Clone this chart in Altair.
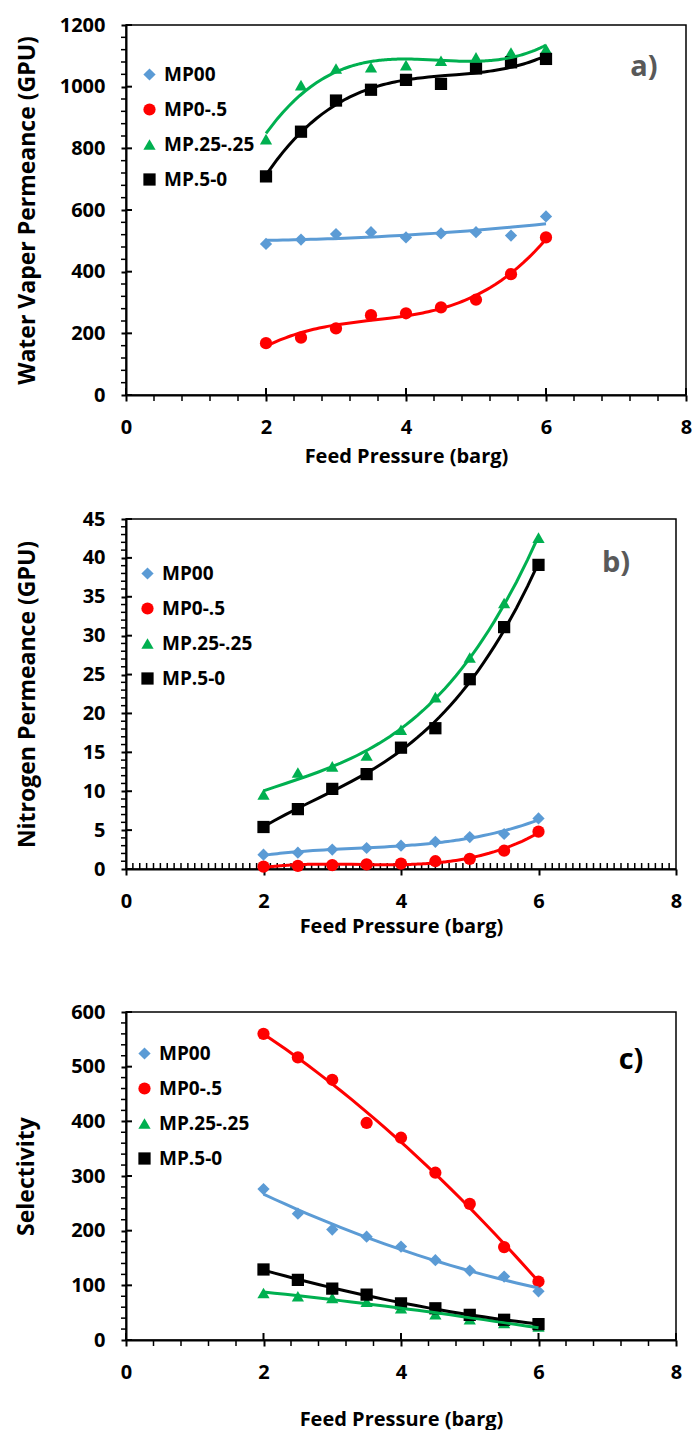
import altair as alt
import pandas as pd

FONT = "Open Sans"

# ---- data ----
pressure = [2, 2.5, 3, 3.5, 4, 4.5, 5, 5.5, 6]
series_names = ["MP00", "MP0-.5", "MP.25-.25", "MP.5-0"]
series_colors = ["#5B9BD5", "#FF0000", "#00B050", "#000000"]
series_shapes = ["diamond", "circle", "triangle-up", "square"]

water_mp00 = [490, 504, 522, 528, 511, 524, 528, 517, 579]
water_mp0_5 = [168, 186, 216, 259, 265, 284, 309, 392, 511]
water_mp25_25 = [830, 1005, 1059, 1063, 1070, 1084, 1095, 1111, 1122]
water_mp5_0 = [709, 854, 955, 990, 1022, 1009, 1059, 1079, 1090]

n2_mp00 = [1.84, 2.1, 2.5, 2.7, 3.0, 3.5, 4.1, 4.5, 6.5]
n2_mp0_5 = [0.3, 0.4, 0.5, 0.6, 0.7, 1.0, 1.3, 2.35, 4.8]
n2_mp25_25 = [9.6, 12.4, 13.2, 14.6, 17.9, 22.1, 27.2, 34.2, 42.6]
n2_mp5_0 = [5.4, 7.7, 10.3, 12.2, 15.6, 18.1, 24.4, 31.1, 39.1]

sel_mp00 = [276, 231, 202, 189, 171, 146, 127, 116, 89]
sel_mp0_5 = [560, 517, 476, 397, 370, 306, 249, 170, 107]
sel_mp25_25 = [86, 80, 77, 70, 58, 47, 38, 31, 25]
sel_mp5_0 = [129, 110, 94, 83, 67, 58, 46, 37, 29]

# polynomial order of each trendline (per panel, per series)
water_fit_order = [2, 3, 3, 3]
n2_fit_order = [3, 3, 3, 3]
sel_fit_order = [2, 2, 2, 2]

x_major = [0, 2, 4, 6, 8]
x_minor_coarse = [0.4, 0.8, 1.2, 1.6, 2.4, 2.8, 3.2, 3.6, 4.4, 4.8, 5.2, 5.6, 6.4, 6.8, 7.2, 7.6]
x_minor_fine = [round(k / 10, 1) for k in range(1, 80) if k % 20 != 0]

water_y_major = [0, 200, 400, 600, 800, 1000, 1200]
water_y_minor = [v for v in range(40, 1200, 40) if v % 200 != 0]
n2_y_major = [0, 5, 10, 15, 20, 25, 30, 35, 40, 45]
n2_y_minor = [v for v in range(1, 45) if v % 5 != 0]
sel_y_major = [0, 100, 200, 300, 400, 500, 600]
sel_y_minor = [v for v in range(20, 600, 20) if v % 100 != 0]


def series_frame(values_by_series):
    rows = []
    for name, vals in zip(series_names, values_by_series):
        for p, v in zip(pressure, vals):
            rows.append({"series": name, "pressure": p, "value": v})
    return pd.DataFrame(rows)


def tick_frame(vals):
    return pd.DataFrame({"pressure": vals, "value": vals})


def panel(values_by_series, orders, y_max, y_major, y_minor, x_minor, x_minor_inside,
          y_title, tag, tag_color, tag_xy, legend_xy, width, height,
          x_title_pad, y_title_pad):
    data = series_frame(values_by_series)
    xs = alt.Scale(domain=[0, 8], nice=False, zero=False)
    ys = alt.Scale(domain=[0, y_max], nice=False)
    common = dict(grid=False, domainColor="#000", domainWidth=2, tickColor="#000",
                  tickWidth=2, labelFont=FONT, labelFontSize=20, labelFontWeight="bold",
                  labelColor="#000", titleFont=FONT, titleFontWeight="bold",
                  titleColor="#000", labelFlush=False, labelOverlap=False, format="d")
    x_axis = alt.Axis(values=x_major, title="Feed Pressure (barg)", tickSize=6,
                      labelPadding=16, titleFontSize=20, titlePadding=x_title_pad, **common)
    y_axis = alt.Axis(values=y_major, title=y_title, tickSize=5, labelPadding=16,
                      titleFontSize=23, titlePadding=y_title_pad, **common)
    legend = alt.Legend(title=None, orient="none", legendX=legend_xy[0], legendY=legend_xy[1],
                        direction="vertical", labelFont=FONT, labelFontSize=19,
                        labelFontWeight="bold", labelColor="#000", symbolSize=150,
                        symbolStrokeWidth=0, rowPadding=15, labelOffset=5, padding=0)
    color = alt.Color("series:N", scale=alt.Scale(domain=series_names, range=series_colors),
                      legend=legend)
    shape = alt.Shape("series:N", scale=alt.Scale(domain=series_names, range=series_shapes),
                      legend=legend)
    X = alt.X("pressure:Q", scale=xs, axis=x_axis)
    Y = alt.Y("value:Q", scale=ys, axis=y_axis)

    pts = alt.Chart(data).mark_point(filled=True, size=150, opacity=1).encode(
        x=X, y=Y, color=color, shape=shape)

    fits = []
    for name, col, order in zip(series_names, series_colors, orders):
        fits.append(
            alt.Chart(data).transform_filter(alt.datum.series == name).transform_regression(
                "pressure", "value", method="poly", order=order, extent=[2, 6]
            ).mark_line(strokeWidth=3, color=col).encode(x=X, y=Y))

    y_min_t = alt.Chart(tick_frame(y_minor)).mark_rule(color="#000", strokeWidth=1.5).encode(
        y=Y, x=alt.value(-5), x2=alt.value(0))
    y_maj_in = alt.Chart(tick_frame(y_major)).mark_rule(color="#000", strokeWidth=2).encode(
        y=Y, x=alt.value(0), x2=alt.value(6))
    x_min_t = alt.Chart(tick_frame(x_minor)).mark_rule(color="#000", strokeWidth=1.5).encode(
        x=X, y=alt.value(height),
        y2=alt.value(height - 6 if x_minor_inside else height + 6))
    layers = [y_min_t, y_maj_in, x_min_t]
    if not x_minor_inside:
        x_maj_in = alt.Chart(tick_frame(x_major)).mark_rule(color="#000", strokeWidth=2).encode(
            x=X, y=alt.value(height), y2=alt.value(height - 7))
        layers.append(x_maj_in)

    tag_layer = alt.Chart(pd.DataFrame({"t": [tag]})).mark_text(
        font=FONT, fontSize=29, fontWeight="bold", color=tag_color,
        align="center", baseline="middle").encode(
        text="t:N", x=alt.value(tag_xy[0]), y=alt.value(tag_xy[1]))

    return alt.layer(*layers, pts, *fits, tag_layer).properties(width=width, height=height)


panel_a = panel([water_mp00, water_mp0_5, water_mp25_25, water_mp5_0], water_fit_order, 1200,
                water_y_major, water_y_minor, x_minor_coarse, False,
                "Water Vaper Permeance (GPU)", "a)", "#595959", (518, 42), (14, 40),
                560, 370, 9, 20)
panel_b = panel([n2_mp00, n2_mp0_5, n2_mp25_25, n2_mp5_0], n2_fit_order, 45,
                n2_y_major, n2_y_minor, x_minor_fine, True,
                "Nitrogen Permeance (GPU)", "b)", "#595959", (490, 44), (12, 45),
                550, 350, 5, 43)
panel_c = panel([sel_mp00, sel_mp0_5, sel_mp25_25, sel_mp5_0], sel_fit_order, 600,
                sel_y_major, sel_y_minor, x_minor_coarse, False,
                "Selectivity", "c)", "#000000", (505, 48), (9, 32),
                550, 328, 27, 32).properties(
    title=alt.TitleParams(text=" ", fontSize=14, offset=9))

chart = alt.vconcat(panel_a, panel_b, panel_c, spacing=41).resolve_scale(
    x="independent", y="independent", color="independent", shape="independent"
).resolve_legend(color="independent", shape="independent").properties(
    padding={"left": 14, "top": 14, "right": 0, "bottom": 0}
).configure_view(stroke="#000", strokeWidth=1.5)

chart.save("out.html", embed_options={"renderer": "svg", "actions": False})
